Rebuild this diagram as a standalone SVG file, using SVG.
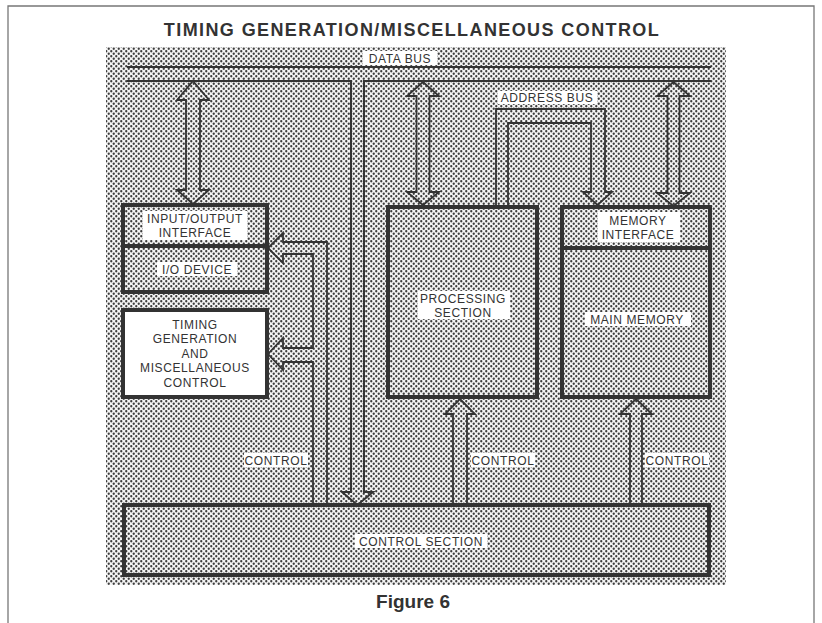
<svg xmlns="http://www.w3.org/2000/svg" width="822" height="623" viewBox="0 0 822 623">
<defs>
<pattern id="dots" width="5" height="5" patternUnits="userSpaceOnUse">
<rect width="5" height="5" fill="#f4f4f4"/>
<circle cx="1.25" cy="1.25" r="1.15" fill="#3c3c3c"/>
<circle cx="3.75" cy="3.75" r="1.15" fill="#3c3c3c"/>
</pattern>
<style>
.box{stroke:#333;stroke-width:4;fill:url(#dots)}
.wbox{stroke:#333;stroke-width:4;fill:#fff}
.div{stroke:#333;stroke-width:4}
.bus{fill:none;stroke:#333;stroke-width:2}
.arr{fill:none;stroke:#333;stroke-width:1.8;stroke-linejoin:miter}
.lbg{fill:#fff}
.t{font-family:"Liberation Sans",Arial,sans-serif;font-size:12px;fill:#333;letter-spacing:0.6px;text-anchor:middle}
.title{font-family:"Liberation Sans",Arial,sans-serif;font-weight:bold;font-size:18px;fill:#333;letter-spacing:1.4px;text-anchor:middle}
</style>
</defs>
<rect x="0" y="0" width="822" height="623" fill="#fff"/>
<path d="M8 640 V6 H814 V640" fill="none" stroke="#777" stroke-width="1.3"/>
<text class="title" x="412" y="36">TIMING GENERATION/MISCELLANEOUS CONTROL</text>
<rect x="106" y="47" width="620" height="538" fill="url(#dots)"/>

<g id="connectors">
<path class="bus" d="M127 67 H711"/>
<path class="bus" d="M127 81 H351 V492 H342 L357.5 505 L373 492 H364 V81 H711"/>
<rect class="lbg" x="363" y="51" width="74" height="14"/>
<text class="t" x="400" y="62.5">DATA BUS</text>
<polygon class="arr" points="193,81 209,100 200,100 200,190 209,190 193,204 177,190 186,190 186,100 177,100"/>
<polygon class="arr" points="423,82 439,96 429.5,96 429.5,192 439,192 423,205 407,192 416.5,192 416.5,96 407,96"/>
<polygon class="arr" points="673.5,82 690,96 679.5,96 679.5,193 690,193 673.5,206 657,193 667.5,193 667.5,96 657,96"/>
<path class="arr" d="M496 207 V109 H605 V192 H612 L597.5 205 L583 192 H591 V123 H508 V207"/>
<rect class="lbg" x="498" y="91" width="99" height="13"/>
<text class="t" x="547" y="101.5">ADDRESS BUS</text>
<path class="arr" d="M327 505 V242 H283 V233 L268 248 L283 263 V254 H313 V348 H283 V338 L268 354 L283 370 V362 H313 V505"/>
<rect class="lbg" x="244" y="453" width="64" height="14"/>
<text class="t" x="276" y="464.5">CONTROL</text>
<polygon class="arr" points="460,399 475,414 467,414 467,505 453,505 453,414 445,414"/>
<rect class="lbg" x="471" y="453" width="64" height="14"/>
<text class="t" x="503" y="464.5">CONTROL</text>
<polygon class="arr" points="636,399 652,414 642,414 642,505 630,505 630,414 620,414"/>
<rect class="lbg" x="645" y="453" width="64" height="14"/>
<text class="t" x="677" y="464.5">CONTROL</text>
</g>

<g id="io-interface">
<rect class="box" x="123" y="205" width="144" height="87"/>
<line class="div" x1="123" y1="246" x2="267" y2="246"/>
<rect class="lbg" x="143" y="211" width="104" height="29"/>
<text class="t" x="195" y="222.5">INPUT/OUTPUT</text>
<text class="t" x="195" y="237">INTERFACE</text>
</g>
<g id="io-device">
<rect class="lbg" x="157" y="262" width="80" height="14"/>
<text class="t" x="197" y="273.5">I/O DEVICE</text>
</g>
<g id="timing">
<rect class="wbox" x="123" y="310" width="144" height="87"/>
<text class="t" x="195" y="328.5">TIMING</text>
<text class="t" x="195" y="343">GENERATION</text>
<text class="t" x="195" y="357.5">AND</text>
<text class="t" x="195" y="372">MISCELLANEOUS</text>
<text class="t" x="195" y="386.5">CONTROL</text>
</g>
<g id="processing">
<rect class="box" x="388" y="207" width="149" height="190"/>
<rect class="lbg" x="418" y="291" width="92" height="28"/>
<text class="t" x="463" y="302.5">PROCESSING</text>
<text class="t" x="463" y="317">SECTION</text>
</g>
<g id="memory">
<rect class="box" x="562" y="207" width="148" height="190"/>
<line class="div" x1="562" y1="248" x2="710" y2="248"/>
<rect class="lbg" x="598" y="212" width="82" height="30"/>
<text class="t" x="638" y="224.5">MEMORY</text>
<text class="t" x="638" y="238.5">INTERFACE</text>
<rect class="lbg" x="585" y="312" width="106" height="14"/>
<text class="t" x="637" y="323.5">MAIN MEMORY</text>
</g>
<g id="control-section">
<rect class="box" x="124" y="505" width="585" height="70"/>
<rect class="lbg" x="355" y="534" width="132" height="14"/>
<text class="t" x="421" y="545.5">CONTROL SECTION</text>
</g>
<text x="413" y="608" font-family="Liberation Sans Narrow,Liberation Sans,Arial,sans-serif" font-weight="bold" font-size="19" fill="#333" text-anchor="middle">Figure 6</text>
</svg>
